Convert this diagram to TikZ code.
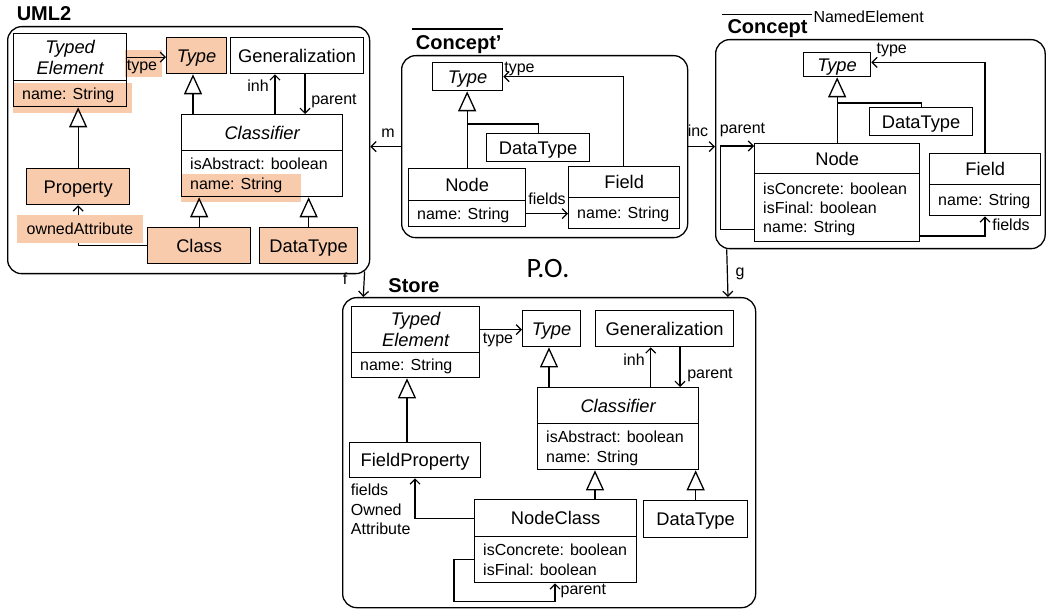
\documentclass[tikz,border=0pt]{standalone}
\usepackage{fontspec}
\setmainfont{Liberation Sans}
\newfontfamily\pofont{Carlito}
\usetikzlibrary{arrows.meta}
\definecolor{hl}{HTML}{F8CBAD}

\newcommand\fcls{\fontsize{18.3}{21}\selectfont}
\newcommand\fsm{\fontsize{16}{19.3}\selectfont}
\newcommand\fttl{\fontsize{20}{24}\selectfont\bfseries}

% text height of an n-line block = cap height + (n-1) baselineskips
\tikzset{
  box/.style={draw, line width=1.3pt, inner sep=0pt, anchor=north west, font=\fcls,
    text height=13.2pt, text depth=0pt, align=center},
  box2/.style={box, text height=34.2pt},
  hlbox/.style={box, fill=hl},
  attr/.style={inner sep=0pt, anchor=west, font=\fsm, align=left, text height=11.5pt, text depth=0pt},
  attr2/.style={attr, text height=30.8pt},
  attr3/.style={attr, text height=50.1pt},
  lbl/.style={inner sep=0pt, font=\fsm, align=left, text height=11.5pt, text depth=0pt},
  pkg/.style={draw, line width=1.3pt, rounded corners=14pt, inner sep=0pt, anchor=north west},
  ttl/.style={inner sep=0pt, font=\fttl, text height=14.4pt, text depth=0pt},
  assoc/.style={line width=1.2pt, -{Straight Barb[length=5pt,width=10pt]}},
  inherit/.style={line width=1.3pt, -{Triangle[open,length=20pt,width=18pt]}},
  plain/.style={line width=1.3pt},
}

\begin{document}
\begin{tikzpicture}[x=1pt,y=-1pt]
\useasboundingbox (0,0) rectangle (1046,609);

% ---------- packages and titles ----------
\node[pkg, minimum width=362pt, minimum height=247pt] (uml) at (7,26) {};
\node[ttl] (umlt) at (44,13) {UML2};
\node[pkg, minimum width=286pt, minimum height=182pt] (cp) at (401,55) {};
\node[ttl] (cpt) at (458.7,42.3) {Concept'};
\draw[plain] ([xshift=-4.2pt,yshift=5.8pt]cpt.north west) -- ([xshift=1.2pt,yshift=5.8pt]cpt.north east);
\node[pkg, minimum width=329.5pt, minimum height=209pt] (cc) at (715,39) {};
\node[ttl] (cct) at (767.5,26.7) {Concept};
\draw[plain] ([xshift=-5.8pt,yshift=4.5pt]cct.north west) -- ([xshift=4.2pt,yshift=4.5pt]cct.north east);
\node[lbl, anchor=west] (ccne) at (813.3,16.7) {NamedElement};
\node[pkg, minimum width=413pt, minimum height=310pt] (st) at (342,297) {};
\node[ttl] (stt) at (414,285.7) {Store};
\node[inner sep=0pt, font={\pofont\fontsize{28}{33}\selectfont}, text height=18pt, text depth=0pt] (po) at (548,269) {P.O.};

% ---------- UML2 ----------
\fill[hl] (13,83) rectangle (132,113);
\fill[hl] (181,174) rectangle (301,202);
\fill[hl] (125,50) rectangle (162,77);
\node[box2, font={\fcls\itshape}, minimum width=113pt, minimum height=47pt] (te) at (13,33) {Typed\\Element};
\node[box, minimum width=113pt, minimum height=26pt] (tea) at (13,80) {};
\node[attr] (teat) at ([xshift=9pt]tea.west) {name: String};
\node[hlbox, font={\fcls\itshape}, minimum width=60pt, minimum height=36pt] (ty) at (166,37) {Type};
\node[box, minimum width=133pt, minimum height=36pt] (gen) at (230,37) {Generalization};
\node[box, font={\fcls\itshape}, minimum width=161pt, minimum height=36pt] (cl) at (181,114) {Classifier};
\node[box, minimum width=161pt, minimum height=46pt] (cla) at (181,150) {};
\node[attr2] (clat) at ([xshift=9pt]cla.west) {isAbstract: boolean\\name: String};
\node[hlbox, minimum width=103pt, minimum height=36pt] (pr) at (26,168) {Property};
\node[hlbox, minimum width=103pt, minimum height=36pt] (cls) at (147,227) {Class};
\node[hlbox, minimum width=98pt, minimum height=36pt] (dt) at (259,227) {DataType};

\draw[assoc] (te.east) -- (te.east -| ty.west);
\node[lbl] (tyl) at (142,65) {type};
\draw[inherit] ([xshift=12pt]cl.north west) -- ([xshift=27pt]ty.south west);
\draw[assoc] ([xshift=94pt]cl.north west) -- ([xshift=45pt]gen.south west);
\node[lbl] (inhl) at (258,86) {inh};
\draw[assoc] ([xshift=75pt]gen.south west) -- ([xshift=124pt]cl.north west);
\node[lbl] (parl) at (334,99) {parent};
\draw[inherit] (pr.north) -- (pr.north |- tea.south);
\draw[inherit] (cls.north) -- (cls.north |- cla.south);
\draw[inherit] (dt.north) -- (dt.north |- cla.south);
\draw[assoc] (cls.west) -| (pr.south);
\fill[hl] (17,215) rectangle (143,243);
\node[lbl] (oal) at (80,229) {ownedAttribute};

% ---------- Concept' ----------
\node[box, font={\fcls\itshape}, minimum width=70pt, minimum height=28pt] (cpty) at (432,62) {Type};
\node[box, minimum width=103pt, minimum height=28pt] (cpdt) at (486,133) {DataType};
\node[box, minimum width=117pt, minimum height=32pt] (cpn) at (408,168) {Node};
\node[box, minimum width=117pt, minimum height=26pt] (cpna) at (408,200) {};
\node[attr] (cpnat) at ([xshift=9pt]cpna.west) {name: String};
\node[box, minimum width=111pt, minimum height=31pt] (cpf) at (568,166) {Field};
\node[box, minimum width=111pt, minimum height=31pt] (cpfa) at (568,197) {};
\node[attr] (cpfat) at ([xshift=9pt]cpfa.west) {name: String};
\draw[inherit] (cpn.north) -- (cpn.north |- cpty.south);
\draw[plain] (cpdt.north) |- ([yshift=-32.7pt]cpty.south);
\draw[assoc] (cpna.east) -- (cpna.east -| cpfa.west);
\node[lbl] (cpfl) at (547,199) {fields};
\draw[assoc] ([xshift=55.3pt]cpf.north west) |- (cpty.east);
\node[lbl] (cptl) at (519.5,67) {type};

% ---------- Concept ----------
\node[box, font={\fcls\itshape}, minimum width=67pt, minimum height=24pt] (ccty) at (803,52) {Type};
\node[box, minimum width=103pt, minimum height=28pt] (ccdt) at (869,107) {DataType};
\node[box, minimum width=165pt, minimum height=30pt] (ccn) at (754,143) {Node};
\node[box, minimum width=165pt, minimum height=68pt] (ccna) at (754,173) {};
\node[attr3] (ccnat) at ([xshift=9pt]ccna.west) {isConcrete: boolean\\isFinal: boolean\\name: String};
\node[box, minimum width=111pt, minimum height=31pt] (ccf) at (929,153) {Field};
\node[box, minimum width=111pt, minimum height=31pt] (ccfa) at (929,184) {};
\node[attr] (ccfat) at ([xshift=9pt]ccfa.west) {name: String};
\draw[inherit] (ccn.north) -- (ccn.north |- ccty.south);
\draw[plain] (ccdt.north) |- ([yshift=-25.7pt]ccty.south);
\draw[assoc] ([xshift=56pt]ccf.north west) |- ([yshift=2.3pt]ccty.east);
\node[lbl] (cctl) at (891.7,48) {type};
\draw[assoc] ([yshift=-56.3pt]ccna.north west) -- ++(-33.6,0) |- ([yshift=-3pt]ccn.north west);
\node[lbl] (ccpl) at (742.5,127.5) {parent};
\draw[assoc] ([yshift=-63pt]ccna.north east) -| ([xshift=56pt]ccfa.south west);
\node[lbl] (ccfl) at (1011,225) {fields};

% ---------- morphisms between packages ----------
\draw[assoc] (cp.west) -- (cp.west -| uml.east);
\node[lbl] (ml) at (388,132) {m};
\draw[assoc] (cp.east) -- (cp.east -| cc.west);
\node[lbl] (incl) at (698,131) {inc};
\draw[assoc] ([xshift=-5.7pt,yshift=3pt]uml.south east) -- ([xshift=21.3pt]st.north west);
\node[lbl] (fl) at (345,279) {f};
\draw[assoc] ([xshift=11.7pt]cc.south west) -- ([xshift=-28.3pt]st.north east);
\node[lbl] (gl) at (740,270.5) {g};

% ---------- Store ----------
\node[box2, font={\fcls\itshape}, minimum width=128pt, minimum height=46pt] (ste) at (351,306) {Typed\\Element};
\node[box, minimum width=128pt, minimum height=25pt] (stea) at (351,352) {};
\node[attr] (steat) at ([xshift=9pt]stea.west) {name: String};
\node[box, font={\fcls\itshape}, minimum width=58pt, minimum height=36pt] (stty) at (522,310) {Type};
\node[box, minimum width=138pt, minimum height=36pt] (stgen) at (595,310) {Generalization};
\node[box, font={\fcls\itshape}, minimum width=161pt, minimum height=36pt] (stcl) at (537,387) {Classifier};
\node[box, minimum width=161pt, minimum height=46pt] (stcla) at (537,423) {};
\node[attr2] (stclat) at ([xshift=9pt]stcla.west) {isAbstract: boolean\\name: String};
\node[box, minimum width=131pt, minimum height=35pt] (stfp) at (349,442) {FieldProperty};
\node[box, minimum width=162pt, minimum height=37pt] (stnc) at (474,499) {NodeClass};
\node[box, minimum width=162pt, minimum height=46pt] (stnca) at (474,536) {};
\node[attr2] (stncat) at ([xshift=9pt]stnca.west) {isConcrete: boolean\\isFinal: boolean};
\node[box, minimum width=104pt, minimum height=37pt] (stdt) at (643,500) {DataType};

\draw[assoc] (ste.east) -- (ste.east -| stty.west);
\node[lbl] (sttl) at (498,337.5) {type};
\draw[inherit] ([xshift=12pt]stcl.north west) -- ([xshift=27pt]stty.south west);
\draw[assoc] ([xshift=113.7pt]stcl.north west) -- ([xshift=55.7pt]stgen.south west);
\node[lbl] (stinl) at (634,360) {inh};
\draw[assoc] ([xshift=85pt]stgen.south west) -- ([xshift=143pt]stcl.north west);
\node[lbl] (stpl) at (710,372.5) {parent};
\draw[inherit] ([xshift=58pt]stfp.north west) -- ([xshift=56pt]stea.south west);
\draw[inherit] ([xshift=121pt]stnc.north west) -- ([xshift=58pt]stcla.south west);
\draw[inherit] (stdt.north) -- (stdt.north |- stcla.south);
\draw[assoc] (stnc.west) -| ([xshift=66pt]stfp.south west);
\node[lbl, anchor=west, text height=50.1pt] (stfol) at (350.7,509.5) {fields\\Owned\\Attribute};
\draw[assoc] ([yshift=-23.3pt]stnca.north west) -- ++(-20,0) -- ++(0,42.4) -| ([xshift=81pt]stnca.south west);
\node[lbl] (stncpl) at (583.3,589) {parent};
\end{tikzpicture}
\end{document}
